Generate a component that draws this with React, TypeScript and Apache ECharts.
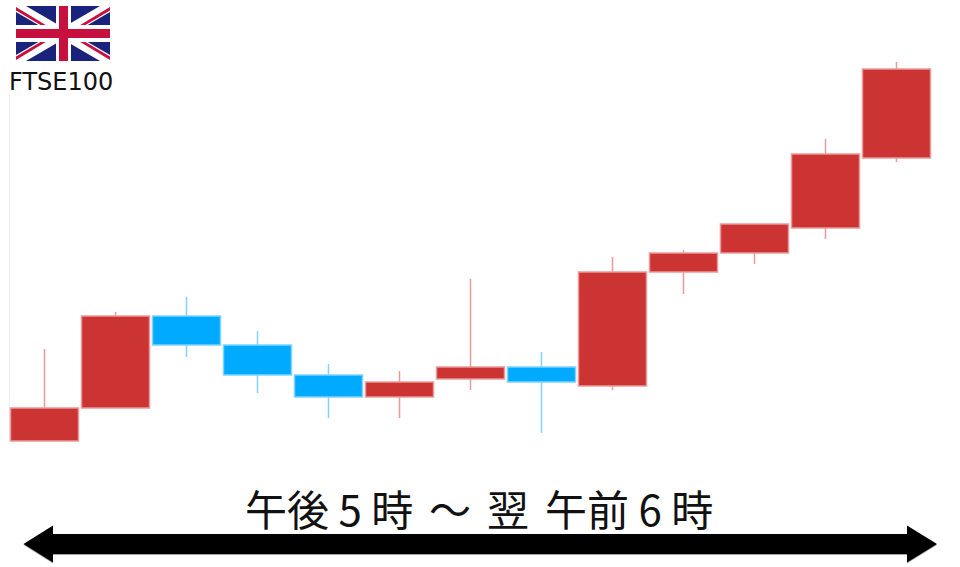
import React, { useEffect, useRef } from "react";
import * as echarts from "echarts";

const sessions = ["17", "18", "19", "20", "21", "22", "23", "0", "1", "2", "3", "4", "5"];
const opens = [59, 92, 184, 155, 125, 103, 121, 133, 114, 228, 247, 272, 342];
const closes = [92, 184, 155, 125, 103, 118, 133, 118, 228, 247, 276, 346, 431];
const lows = [59, 92, 143, 107, 82, 82, 110, 67, 110, 206, 236, 261, 338];
const highs = [151, 188, 203, 169, 136, 129, 221, 148, 243, 250, 276, 361, 438];
const instrumentLabel = "FTSE100";
const periodStart = "午後 5 時";
const periodTilde = "～";
const periodNext = "翌";
const periodEnd = "午前 6 時";

const RED = "#cc3333";
const BLUE = "#00aaff";
const FLAG_BLUE = "#1a237b";
const FLAG_RED = "#c8103e";
const PERIOD_FONT = '42px "Noto Sans CJK JP", sans-serif';

const flagPolygon = (points: number[][], fill: string) => ({
  type: "polygon",
  shape: { points },
  style: { fill },
});

const flag = {
  type: "group",
  x: 16,
  y: 6,
  children: [
    { type: "rect", shape: { x: 0, y: 0, width: 94, height: 55 }, style: { fill: FLAG_BLUE } },
    flagPolygon([[0, 0], [10, 0], [94, 49], [94, 55], [84, 55], [0, 6]], "#fff"),
    flagPolygon([[94, 0], [84, 0], [0, 49], [0, 55], [10, 55], [94, 6]], "#fff"),
    flagPolygon([[0, 1], [0, 4.5], [33, 24], [38, 24]], FLAG_RED),
    flagPolygon([[94, 1], [94, 4.5], [61, 24], [56, 24]], FLAG_RED),
    flagPolygon([[0, 54], [0, 50.5], [33, 31], [38, 31]], FLAG_RED),
    flagPolygon([[94, 54], [94, 50.5], [61, 31], [56, 31]], FLAG_RED),
    { type: "rect", shape: { x: 0, y: 19, width: 94, height: 17 }, style: { fill: "#fff" } },
    { type: "rect", shape: { x: 40, y: 0, width: 15, height: 55 }, style: { fill: "#fff" } },
    { type: "rect", shape: { x: 0, y: 23, width: 94, height: 9 }, style: { fill: FLAG_RED } },
    { type: "rect", shape: { x: 43, y: 0, width: 9, height: 55 }, style: { fill: FLAG_RED } },
  ],
};

const arrowPoints = [
  [23.5, 544], [53, 525.5], [53, 534], [907, 534], [907, 525.5], [937, 544],
  [907, 562.5], [907, 554], [53, 554], [53, 562.5],
];

const periodText = (text: string, x: number) => ({
  type: "text",
  x,
  y: 486,
  style: { text, fill: "#111", font: PERIOD_FONT },
});

export default function App() {
  const ref = useRef<HTMLDivElement>(null);

  useEffect(() => {
    const chart = echarts.init(ref.current!, null, { renderer: "svg" });
    chart.setOption({
      animation: false,
      backgroundColor: "#fff",
      grid: { left: 9, width: 923, top: 95, height: 346 },
      xAxis: {
        type: "category",
        data: sessions,
        show: false,
        boundaryGap: true,
      },
      yAxis: {
        type: "value",
        min: 59,
        max: 405,
        axisLine: { show: true, onZero: false, lineStyle: { color: "#efefef", width: 1 } },
        axisTick: { show: false },
        axisLabel: { show: false },
        splitLine: { show: false },
      },
      series: [
        {
          type: "candlestick",
          clip: false,
          barWidth: 69,
          data: sessions.map((_, i) => [opens[i], closes[i], lows[i], highs[i]]),
          itemStyle: {
            color: RED,
            color0: BLUE,
            borderColor: "#ea9a9a",
            borderColor0: "#7fd4ff",
            borderWidth: 1.5,
          },
        },
      ],
      graphic: [
        flag,
        {
          type: "text",
          x: 9,
          y: 70,
          style: {
            text: instrumentLabel,
            fill: "#111",
            font: '24px "DejaVu Sans", Verdana, sans-serif',
          },
        },
        periodText(periodStart, 245),
        periodText(periodTilde, 429),
        periodText(periodNext, 487),
        periodText(periodEnd, 545),
        {
          type: "polygon",
          shape: { points: arrowPoints },
          style: { fill: "#000", shadowColor: "rgba(0,0,0,0.35)", shadowBlur: 1, shadowOffsetY: 1 },
        },
      ],
    });
    return () => chart.dispose();
  }, []);

  return (
    <div
      ref={ref}
      style={{ position: "absolute", left: 0, top: 0, width: 960, height: 567 }}
    />
  );
}
